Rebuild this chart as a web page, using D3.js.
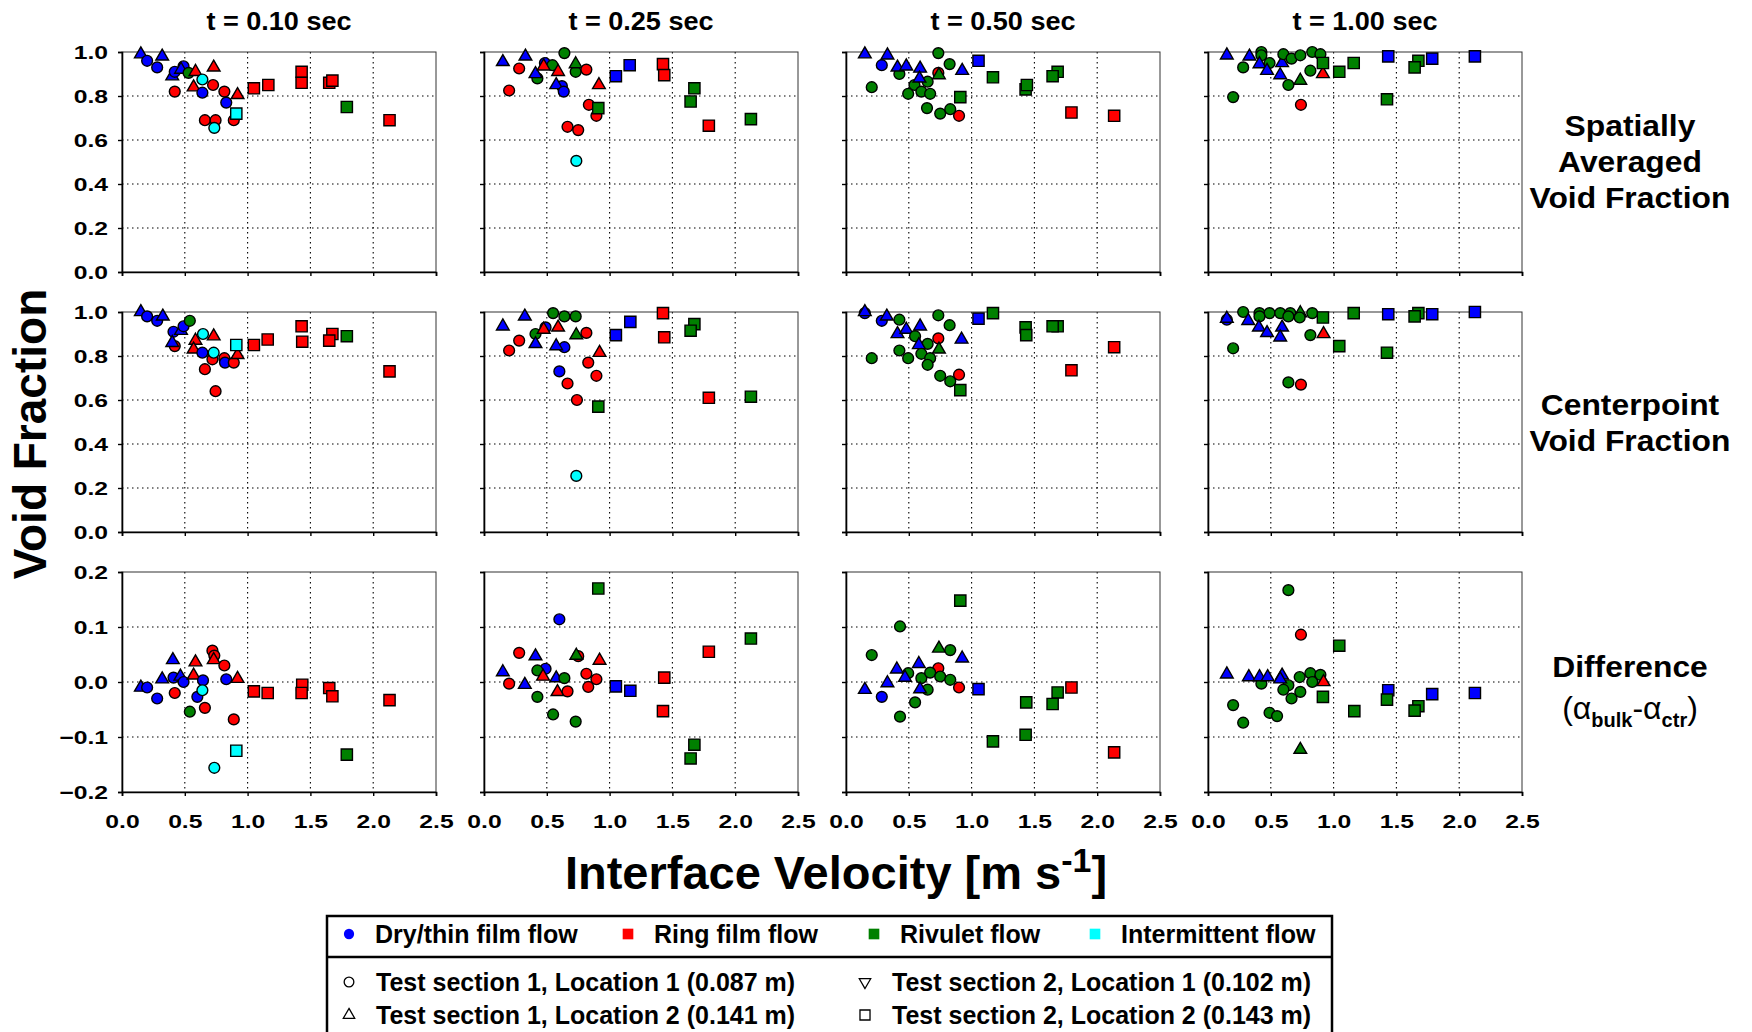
<!DOCTYPE html>
<html>
<head>
<meta charset="utf-8">
<script src="https://cdn.jsdelivr.net/npm/d3@7"></script>
<style>
  html, body { margin: 0; padding: 0; background: #fff; }
  svg { display: block; }
  text { font-family: Arial, "Liberation Sans", sans-serif; fill: #000; }
</style>
</head>
<body>
<svg id="chart" width="1752" height="1032"></svg>
<script>
// ---- data -------------------------------------------------------------
// each point: [interface velocity (m/s), value, regime index, location index]
const timeLabels = ["t = 0.10 sec", "t = 0.25 sec", "t = 0.50 sec", "t = 1.00 sec"];
const velocityTicks = [0, 0.5, 1.0, 1.5, 2.0, 2.5];
const fractionTicks = [0, 0.2, 0.4, 0.6, 0.8, 1.0];
const differenceTicks = [-0.2, -0.1, 0, 0.1, 0.2];

const regimeNames = ["Dry/thin film flow", "Ring film flow", "Rivulet flow", "Intermittent flow"];
const regimeColors = ["#0000ff", "#ff0000", "#008000", "#00ffff"];
const locationNames = [
  "Test section 1, Location 1 (0.087 m)",
  "Test section 1, Location 2 (0.141 m)",
  "Test section 2, Location 1 (0.102 m)",
  "Test section 2, Location 2 (0.143 m)"
];

// spatially averaged void fraction
const avg010 = [
  [0.15,0.99,0,1],[0.20,0.96,0,0],[0.32,0.98,0,1],[0.28,0.93,0,0],[0.40,0.89,0,1],
  [0.42,0.91,0,0],[0.49,0.935,0,0],[0.47,0.92,0,1],[0.53,0.905,2,0],[0.585,0.91,1,1],
  [0.42,0.82,1,0],[0.57,0.84,1,1],[0.64,0.815,0,0],[0.64,0.875,3,0],[0.725,0.85,1,0],
  [0.73,0.93,1,1],[0.815,0.82,1,0],[0.83,0.77,0,0],[0.92,0.805,1,1],[0.89,0.69,1,0],
  [0.66,0.69,1,0],[0.745,0.69,1,0],[0.735,0.655,3,0],[0.91,0.72,3,3],[1.05,0.835,1,3],
  [1.165,0.85,1,3],[1.43,0.91,1,3],[1.43,0.86,1,3],[1.65,0.86,1,3],[1.675,0.87,1,3],
  [1.79,0.75,2,3],[2.13,0.69,1,3]
];
const avg025 = [
  [0.15,0.955,0,1],[0.33,0.98,0,1],[0.28,0.925,1,0],[0.20,0.825,1,0],[0.425,0.88,2,0],
  [0.41,0.90,0,1],[0.485,0.95,0,0],[0.545,0.94,2,0],[0.475,0.935,1,1],[0.59,0.91,1,1],
  [0.64,0.995,2,0],[0.62,0.845,0,0],[0.575,0.85,0,1],[0.635,0.82,0,0],[0.73,0.91,2,0],
  [0.73,0.945,2,1],[0.815,0.92,1,0],[0.915,0.85,1,1],[0.835,0.76,1,0],[0.895,0.71,1,0],
  [0.91,0.745,2,3],[0.665,0.66,1,0],[0.75,0.645,1,0],[0.735,0.505,3,0],[1.05,0.89,0,3],
  [1.16,0.94,0,3],[1.425,0.945,1,3],[1.435,0.895,1,3],[1.675,0.835,2,3],[1.645,0.775,2,3],
  [1.79,0.665,1,3],[2.125,0.695,2,3]
];
const avg050 = [
  [0.15,0.99,0,1],[0.33,0.985,0,1],[0.285,0.94,0,0],[0.205,0.84,2,0],[0.425,0.90,2,0],
  [0.41,0.93,0,1],[0.48,0.935,0,1],[0.59,0.925,0,1],[0.545,0.85,2,0],[0.495,0.81,2,0],
  [0.60,0.82,2,0],[0.67,0.81,2,0],[0.65,0.865,2,0],[0.585,0.88,0,1],[0.735,0.995,2,0],
  [0.735,0.905,1,0],[0.74,0.895,2,1],[0.825,0.945,2,0],[0.925,0.915,0,1],[0.645,0.745,2,0],
  [0.75,0.72,2,0],[0.83,0.74,2,0],[0.90,0.71,1,0],[0.91,0.795,2,3],[1.055,0.96,0,3],
  [1.17,0.885,2,3],[1.43,0.83,2,3],[1.44,0.85,2,3],[1.685,0.91,2,3],[1.645,0.89,2,3],
  [1.795,0.725,1,3],[2.135,0.71,1,3]
];
const avg100 = [
  [0.15,0.985,0,1],[0.33,0.98,0,1],[0.28,0.93,2,0],[0.20,0.795,2,0],[0.425,1.0,2,0],
  [0.425,0.985,2,0],[0.41,0.945,0,1],[0.49,0.95,2,0],[0.47,0.915,0,1],[0.59,0.95,0,1],
  [0.575,0.895,0,1],[0.60,0.99,2,0],[0.665,0.97,2,0],[0.735,0.985,2,0],[0.83,1.0,2,0],
  [0.895,0.99,2,0],[0.64,0.85,2,0],[0.735,0.87,2,1],[0.815,0.915,2,0],[0.915,0.90,1,1],
  [0.915,0.95,2,3],[0.74,0.76,1,0],[1.045,0.91,2,3],[1.16,0.95,2,3],[1.435,0.98,0,3],
  [1.425,0.785,2,3],[1.675,0.96,2,3],[1.645,0.93,2,3],[1.785,0.97,0,3],[2.125,0.98,0,3]
];

// centerpoint void fraction
const ctr010 = [
  [0.15,1.0,0,1],[0.20,0.98,0,0],[0.28,0.96,0,0],[0.325,0.98,0,1],[0.41,0.91,0,0],
  [0.42,0.845,1,0],[0.40,0.86,0,1],[0.47,0.915,0,1],[0.49,0.935,0,0],[0.54,0.96,2,0],
  [0.585,0.87,1,1],[0.57,0.83,1,1],[0.64,0.815,0,0],[0.645,0.90,3,0],[0.73,0.89,1,1],
  [0.72,0.785,1,0],[0.73,0.815,3,0],[0.66,0.74,1,0],[0.745,0.64,1,0],[0.815,0.79,1,0],
  [0.82,0.77,0,0],[0.89,0.77,1,0],[0.92,0.805,1,1],[0.91,0.85,3,3],[1.05,0.85,1,3],
  [1.16,0.875,1,3],[1.43,0.935,1,3],[1.435,0.865,1,3],[1.675,0.90,1,3],[1.65,0.87,1,3],
  [1.79,0.89,2,3],[2.13,0.73,1,3]
];
const ctr025 = [
  [0.15,0.935,0,1],[0.325,0.98,0,1],[0.28,0.87,1,0],[0.20,0.825,1,0],[0.55,0.995,2,0],
  [0.64,0.98,2,0],[0.73,0.98,2,0],[0.41,0.90,2,0],[0.49,0.93,0,0],[0.475,0.92,1,1],
  [0.59,0.93,1,1],[0.41,0.855,0,1],[0.64,0.84,0,0],[0.575,0.845,0,1],[0.735,0.895,2,1],
  [0.815,0.905,1,0],[0.92,0.815,1,1],[0.83,0.77,1,0],[0.60,0.73,0,0],[0.895,0.71,1,0],
  [0.665,0.675,1,0],[0.74,0.60,1,0],[0.91,0.57,2,3],[0.735,0.255,3,0],[1.05,0.895,0,3],
  [1.165,0.955,0,3],[1.425,0.995,1,3],[1.435,0.885,1,3],[1.675,0.945,2,3],[1.645,0.915,2,3],
  [1.79,0.61,1,3],[2.125,0.615,2,3]
];
const ctr050 = [
  [0.15,0.995,0,0],[0.15,1.0,0,1],[0.285,0.96,0,0],[0.325,0.98,0,1],[0.425,0.965,2,0],
  [0.41,0.90,0,1],[0.48,0.92,0,1],[0.59,0.935,0,1],[0.55,0.89,2,0],[0.65,0.855,2,0],
  [0.58,0.85,0,1],[0.425,0.825,2,0],[0.495,0.79,2,0],[0.60,0.81,2,0],[0.67,0.79,2,0],
  [0.65,0.76,2,0],[0.205,0.79,2,0],[0.735,0.985,2,0],[0.825,0.94,2,0],[0.735,0.88,1,0],
  [0.74,0.83,2,1],[0.92,0.875,0,1],[0.75,0.71,2,0],[0.83,0.685,2,0],[0.90,0.715,1,0],
  [0.91,0.645,2,3],[1.055,0.97,0,3],[1.17,0.995,2,3],[1.43,0.93,2,3],[1.435,0.895,2,3],
  [1.685,0.935,2,3],[1.645,0.935,2,3],[1.795,0.735,1,3],[2.135,0.84,1,3]
];
const ctr100 = [
  [0.15,0.965,0,0],[0.15,0.97,0,1],[0.28,1.0,2,0],[0.20,0.835,2,0],[0.32,0.96,0,1],
  [0.41,0.995,2,0],[0.49,0.995,2,0],[0.575,0.995,2,0],[0.655,0.995,2,0],[0.83,0.995,2,0],
  [0.735,0.995,2,1],[0.41,0.98,2,0],[0.405,0.93,0,1],[0.47,0.905,0,1],[0.59,0.93,0,1],
  [0.575,0.885,0,1],[0.64,0.98,2,0],[0.73,0.975,2,0],[0.815,0.895,2,0],[0.92,0.90,1,1],
  [0.915,0.975,2,3],[0.64,0.68,2,0],[0.74,0.67,1,0],[1.045,0.845,2,3],[1.16,0.995,2,3],
  [1.435,0.99,0,3],[1.425,0.815,2,3],[1.675,0.995,2,3],[1.645,0.98,2,3],[1.785,0.99,0,3],
  [2.125,1.0,0,3]
];

// difference, bulk minus centerpoint
const diff010 = [
  [0.15,-0.01,0,1],[0.20,-0.01,0,0],[0.28,-0.03,0,0],[0.32,0.005,0,1],[0.405,0.04,0,1],
  [0.41,0.008,0,0],[0.465,0.01,0,1],[0.49,0.0,0,0],[0.42,-0.02,1,0],[0.54,-0.054,2,0],
  [0.585,0.036,1,1],[0.57,0.012,1,1],[0.645,0.003,0,0],[0.60,-0.027,0,0],[0.64,-0.015,3,0],
  [0.66,-0.047,1,0],[0.72,0.057,1,0],[0.735,0.048,1,0],[0.73,0.04,1,1],[0.815,0.03,1,0],
  [0.83,0.005,0,0],[0.92,0.006,1,1],[0.89,-0.068,1,0],[0.91,-0.125,3,3],[0.735,-0.156,3,0],
  [1.05,-0.017,1,3],[1.16,-0.02,1,3],[1.435,-0.005,1,3],[1.43,-0.02,1,3],[1.65,-0.011,1,3],
  [1.675,-0.026,1,3],[1.79,-0.132,2,3],[2.13,-0.033,1,3]
];
const diff025 = [
  [0.91,0.17,2,3],[0.60,0.114,0,0],[0.28,0.053,1,0],[0.41,0.047,0,1],[0.75,0.047,1,0],
  [0.735,0.048,2,1],[0.92,0.039,1,1],[0.15,0.018,0,1],[0.20,-0.003,1,0],[0.325,-0.005,0,1],
  [0.49,0.024,0,0],[0.425,0.021,2,0],[0.47,0.01,1,1],[0.575,0.007,0,1],[0.64,0.007,2,0],
  [0.585,-0.018,1,1],[0.665,-0.017,1,0],[0.425,-0.027,2,0],[0.815,0.015,1,0],[0.895,0.005,1,0],
  [0.83,-0.009,1,0],[0.55,-0.059,2,0],[0.73,-0.072,2,0],[1.05,-0.008,0,3],[1.165,-0.016,0,3],
  [1.435,0.008,1,3],[1.425,-0.053,1,3],[1.675,-0.114,2,3],[1.645,-0.139,2,3],[1.79,0.055,1,3],
  [2.125,0.079,2,3]
];
const diff050 = [
  [0.91,0.148,2,3],[0.43,0.101,2,0],[0.205,0.049,2,0],[0.74,0.061,2,1],[0.83,0.058,2,0],
  [0.925,0.043,0,1],[0.495,0.016,2,0],[0.735,0.025,1,0],[0.60,0.007,2,0],[0.67,0.017,2,0],
  [0.75,0.01,2,0],[0.83,0.004,2,0],[0.90,-0.01,1,0],[0.65,-0.014,2,0],[0.58,0.033,0,1],
  [0.405,0.023,0,1],[0.47,0.008,0,1],[0.33,-0.002,0,1],[0.15,-0.014,0,1],[0.59,-0.013,0,1],
  [0.285,-0.027,0,0],[0.55,-0.037,2,0],[0.43,-0.063,2,0],[1.055,-0.013,0,3],[1.17,-0.108,2,3],
  [1.43,-0.096,2,3],[1.435,-0.037,2,3],[1.685,-0.019,2,3],[1.645,-0.04,2,3],[1.795,-0.01,1,3],
  [2.135,-0.128,1,3]
];
const diff100 = [
  [0.64,0.167,2,0],[0.74,0.086,1,0],[1.045,0.066,2,3],[0.425,-0.003,2,0],[0.73,0.009,2,0],
  [0.815,0.016,2,0],[0.895,0.013,2,0],[0.83,0.0,2,0],[0.64,-0.006,2,0],[0.60,-0.014,2,0],
  [0.735,-0.018,2,0],[0.665,-0.03,2,0],[0.15,0.014,0,1],[0.325,0.009,0,1],[0.41,0.009,0,1],
  [0.475,0.009,0,1],[0.59,0.012,0,1],[0.575,0.005,0,1],[0.92,0.0,1,1],[0.915,-0.027,2,3],
  [0.20,-0.042,2,0],[0.49,-0.056,2,0],[0.55,-0.062,2,0],[0.28,-0.074,2,0],[0.735,-0.123,2,1],
  [1.165,-0.053,2,3],[1.435,-0.015,0,3],[1.425,-0.032,2,3],[1.675,-0.044,2,3],[1.645,-0.052,2,3],
  [1.785,-0.022,0,3],[2.125,-0.02,0,3]
];

const rowData = [
  [avg010, avg025, avg050, avg100],
  [ctr010, ctr025, ctr050, ctr100],
  [diff010, diff025, diff050, diff100]
];
const rowLabels = [
  ["Spatially", "Averaged", "Void Fraction"],
  ["Centerpoint", "Void Fraction"],
  ["Difference"]
];

// ---- layout -----------------------------------------------------------
const FONT = 'Arial, "Liberation Sans", sans-serif';
const panelW = 314, panelH = 220;
const left0 = 122, colStep = 362;
const top0 = 52, rowStep = 260;

const svg = d3.select("#chart");

// widen text horizontally by factor k, keeping its anchor
function stretch(sel, k) {
  sel.each(function () {
    const w = this.getComputedTextLength();
    if (w > 0) {
      d3.select(this).attr("textLength", w * k).attr("lengthAdjust", "spacingAndGlyphs");
    }
  });
}

const x = d3.scaleLinear().domain([0, 2.5]).range([0, panelW]);
const yFrac = d3.scaleLinear().domain([0, 1]).range([panelH, 0]);
const yDiff = d3.scaleLinear().domain([-0.2, 0.2]).range([panelH, 0]);

const symbolTypes = [d3.symbolCircle, d3.symbolTriangle, d3.symbolTriangle, d3.symbolSquare];
const symbolSizes = [92, 70, 70, 126];
const markerPath = (loc, scale = 1) =>
  d3.symbol().type(symbolTypes[loc]).size(symbolSizes[loc] * scale)();

rowData.forEach((row, r) => {
  const y = r < 2 ? yFrac : yDiff;
  const ticks = r < 2 ? fractionTicks : differenceTicks;
  row.forEach((points, c) => {
    const g = svg.append("g")
      .attr("transform", `translate(${left0 + c * colStep},${top0 + r * rowStep})`);

    // dotted grid
    g.append("g").selectAll("line")
      .data(velocityTicks.slice(1, -1)).join("line")
      .attr("x1", d => x(d)).attr("x2", d => x(d))
      .attr("y1", 0).attr("y2", panelH)
      .attr("stroke", "#000").attr("stroke-width", 1.1).attr("stroke-dasharray", "1.5,3.5");
    g.append("g").selectAll("line")
      .data(ticks.slice(1, -1)).join("line")
      .attr("x1", 0).attr("x2", panelW)
      .attr("y1", d => y(d)).attr("y2", d => y(d))
      .attr("stroke", "#000").attr("stroke-width", 1.1).attr("stroke-dasharray", "1.5,3.5");

    // frame
    g.append("rect").attr("width", panelW).attr("height", panelH)
      .attr("fill", "none").attr("stroke", "#333").attr("stroke-width", 1);

    // axes
    const yAxis = d3.axisLeft(y).tickValues(ticks).tickSize(4).tickPadding(10)
      .tickFormat(c === 0 ? d3.format(".1f") : () => "");
    const xAxis = d3.axisBottom(x).tickValues(velocityTicks).tickSize(4).tickPadding(19)
      .tickFormat(r === 2 ? d3.format(".1f") : () => "");
    const ya = g.append("g").call(yAxis);
    const xa = g.append("g").attr("transform", `translate(0,${panelH})`).call(xAxis);
    [ya, xa].forEach(a => {
      a.select(".domain").attr("stroke", "#000").attr("stroke-width", 1.6);
      a.selectAll(".tick line").attr("stroke", "#000").attr("stroke-width", 1.4);
      a.selectAll("text").attr("font-family", FONT).attr("font-weight", "bold")
        .attr("font-size", 19).attr("fill", "#000");
      stretch(a.selectAll("text"), 1.3);
    });

    // markers
    g.append("g").selectAll("path")
      .data(points).join("path")
      .attr("d", d => markerPath(d[3]))
      .attr("transform", d => `translate(${x(d[0])},${y(d[1])})${d[3] === 2 ? " rotate(180)" : ""}`)
      .attr("fill", d => regimeColors[d[2]])
      .attr("stroke", "#000").attr("stroke-width", 1.4);
  });
});

// column titles
svg.append("g").selectAll("text")
  .data(timeLabels).join("text")
  .attr("x", (d, i) => left0 + i * colStep + panelW / 2)
  .attr("y", 30)
  .attr("text-anchor", "middle")
  .attr("font-family", FONT).attr("font-weight", "bold").attr("font-size", 26)
  .text(d => d)
  .call(stretch, 1.04);

// row descriptions on the right
const labelX = 1630;
const rowLabelCenters = [161, 422, 666];
rowLabels.forEach((lines, r) => {
  const lh = 36;
  const startY = rowLabelCenters[r] - (lines.length - 1) * lh / 2;
  svg.append("g").selectAll("text")
    .data(lines).join("text")
    .attr("x", labelX).attr("y", (d, i) => startY + i * lh)
    .attr("dy", "0.35em")
    .attr("text-anchor", "middle")
    .attr("font-family", FONT).attr("font-weight", "bold").attr("font-size", 30)
    .text(d => d)
    .call(stretch, 1.06);
});
// (α_bulk - α_ctr)
const diffLabel = svg.append("text")
  .attr("x", labelX).attr("y", 708).attr("dy", "0.35em")
  .attr("text-anchor", "middle")
  .attr("font-family", FONT).attr("font-size", 32);
diffLabel.append("tspan").text("(α");
diffLabel.append("tspan").attr("font-size", 20).attr("font-weight", "bold").attr("dy", 8).text("bulk");
diffLabel.append("tspan").attr("dy", -8).text("-α");
diffLabel.append("tspan").attr("font-size", 20).attr("font-weight", "bold").attr("dy", 8).text("ctr");
diffLabel.append("tspan").attr("dy", -8).text(")");

// axis titles
svg.append("text")
  .attr("transform", "translate(46,434) rotate(-90)")
  .attr("text-anchor", "middle")
  .attr("font-family", FONT).attr("font-weight", "bold").attr("font-size", 46)
  .text("Void Fraction");

const xTitle = svg.append("text")
  .attr("x", 836).attr("y", 889)
  .attr("text-anchor", "middle")
  .attr("font-family", FONT).attr("font-weight", "bold").attr("font-size", 47);
xTitle.append("tspan").text("Interface Velocity [m s");
xTitle.append("tspan").attr("font-size", 34).attr("dy", -17).text("-1");
xTitle.append("tspan").attr("dy", 17).text("]");

// ---- legend -----------------------------------------------------------
const legend = svg.append("g");
legend.append("rect")
  .attr("x", 327).attr("y", 916).attr("width", 1005).attr("height", 130)
  .attr("fill", "#fff").attr("stroke", "#000").attr("stroke-width", 2.5);
legend.append("line")
  .attr("x1", 327).attr("x2", 1332).attr("y1", 957).attr("y2", 957)
  .attr("stroke", "#000").attr("stroke-width", 2.5);

const regimeX = [349, 628, 874, 1095];
regimeNames.forEach((name, i) => {
  legend.append("path")
    .attr("d", markerPath(i === 0 ? 0 : 3, 0.9))
    .attr("transform", `translate(${regimeX[i]},934)`)
    .attr("fill", regimeColors[i]);
  legend.append("text")
    .attr("x", regimeX[i] + 26).attr("y", 934).attr("dy", "0.35em")
    .attr("font-family", FONT).attr("font-weight", "bold").attr("font-size", 25)
    .text(name);
});

const locX = [349, 349, 865, 865];
const locY = [982, 1015, 982, 1015];
locationNames.forEach((name, i) => {
  legend.append("path")
    .attr("d", markerPath(i, 0.8))
    .attr("transform", `translate(${locX[i]},${locY[i]})${i === 2 ? " rotate(180)" : ""}`)
    .attr("fill", "#fff").attr("stroke", "#000").attr("stroke-width", 1.3);
  legend.append("text")
    .attr("x", locX[i] + 27).attr("y", locY[i]).attr("dy", "0.35em")
    .attr("font-family", FONT).attr("font-weight", "bold").attr("font-size", 25)
    .text(name);
});
</script>
</body>
</html>
